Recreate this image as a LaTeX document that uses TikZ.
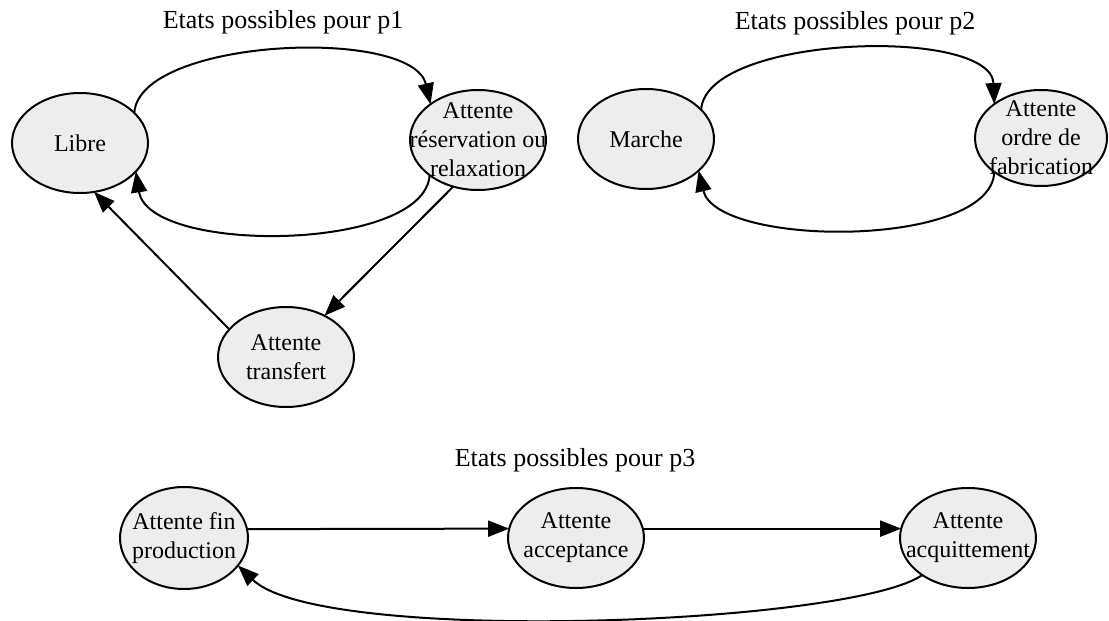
\documentclass[tikz,border=0pt]{standalone}
\usepackage{fontspec}
\setmainfont{Liberation Serif}
\usetikzlibrary{shapes.geometric,arrows.meta}
\definecolor{nodefill}{RGB}{237,237,237}
\begin{document}
\begin{tikzpicture}[x=1pt,y=-1pt,
  st/.style={ellipse, draw, line width=2pt, fill=nodefill, minimum width=136pt, minimum height=100pt, inner sep=0pt, outer sep=0pt},
  txt/.style={align=center, font=\fontsize{24}{29}\selectfont, inner sep=0pt},
  ttl/.style={font=\fontsize{26}{30}\selectfont, anchor=base, inner sep=0pt},
  con/.style={line width=2pt, -{Triangle[length=21pt,width=16pt]}},
]
\useasboundingbox (0,0) rectangle (1109,621);
\node[ttl] (t1) at (283,28) {Etats possibles pour p1};
\node[ttl] (t2) at (855,29) {Etats possibles pour p2};
\node[ttl] (t3) at (575,466) {Etats possibles pour p3};

\node[st, label={[txt]center:Libre}] (lib) at (80,143) {};
\node[st, label={[txt]center:{Attente\\réservation ou\\relaxation}}] (res) at (478,140) {};
\node[st, label={[txt]center:{Attente\\transfert}}] (tra) at (286,357) {};
\node[st, label={[txt]center:Marche}] (mar) at (646,139) {};
\node[st, minimum width=132pt, minimum height=96pt, label={[txt]center:{Attente\\ordre de\\fabrication}}] (ord) at (1041,138) {};
\node[st, minimum width=128pt, minimum height=102pt, label={[txt]center:{Attente fin\\production}}] (fin) at (184,538) {};
\node[st, label={[txt]center:{Attente\\acceptance}}] (acc) at (576,538) {};
\node[st, label={[txt]center:{Attente\\acquittement}}] (acq) at (968,538) {};

\draw[con] (lib.29) .. controls +(5,-75) and +(-18,-78) .. (res.143);
\draw[con] (res.216) .. controls +(-5,77) and +(13,83) .. (lib.-27);
\draw[con] (res.242) -- (tra.47);
\draw[con] (tra.154) -- (lib.-74);
\draw[con] (mar.28) .. controls +(5,-75) and +(-3,-78) .. (ord.144);
\draw[con] (ord.216) .. controls +(-3,77) and +(18,77) .. (mar.-31);
\draw[con] (fin.8) -- (acc.172);
\draw[con] (acc.8) -- (acq.172);
\draw[con] (acq.219) .. controls +(-72,50) and +(83,80) .. (fin.-27);
\end{tikzpicture}
\end{document}
